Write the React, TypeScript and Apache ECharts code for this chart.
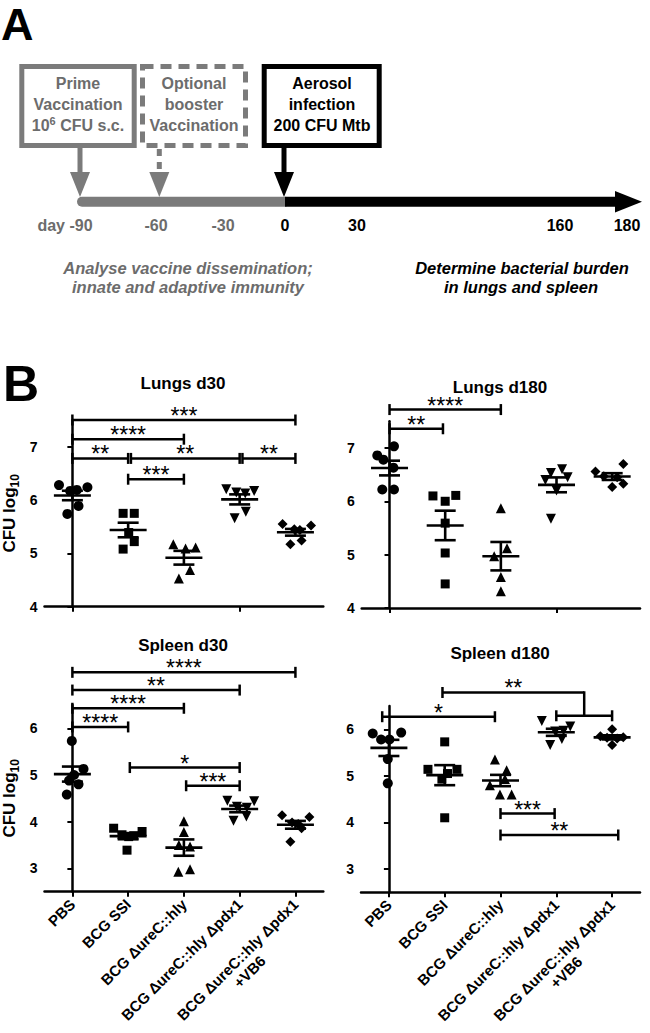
import React, { useEffect, useRef } from "react";
import * as echarts from "echarts";

const FONT = "'Liberation Sans', Arial, Helvetica, sans-serif";
const GRAY_LINE = "#7b7b7b";
const GRAY_TEXT = "#6c6c6c";

// ---------- DATA ----------
const categories = [
  "PBS",
  "BCG SSI",
  "BCG ΔureC::hly",
  "BCG ΔureC::hly Δpdx1",
  "BCG ΔureC::hly Δpdx1\n+VB6",
];
const groupSymbols = ["circle", "rect", "triangle", "triangle", "diamond"];
const groupSymbolRotate = [0, 0, 0, 180, 0];
const groupSymbolSize = [10, 9, 10, 10, 10];

// Lungs d30 (CFU log10)
const lungsD30Values = [
  [6.28, 6.17, 6.19, 6.24, 5.74, 5.89],
  [5.75, 5.75, 5.39, 5.22, 5.08],
  [5.17, 5.09, 5.11, 4.69, 4.53],
  [6.2, 6.14, 6.12, 6.17, 5.66, 5.78],
  [5.55, 5.45, 5.44, 5.52, 5.17, 5.24],
];
const lungsD30Jitter = [
  [-0.24, -0.04, 0.08, 0.27, -0.09, 0.11],
  [-0.09, 0.11, 0.01, 0.11, -0.09],
  [-0.19, 0.03, 0.21, 0.11, -0.09],
  [-0.24, -0.06, 0.1, 0.26, -0.09, 0.11],
  [-0.23, -0.02, 0.08, 0.28, -0.09, 0.11],
];
const lungsD30Brackets = [
  { from: 0, to: 4, y: 7.5, label: "***" },
  { from: 0, to: 2, y: 7.14, label: "****" },
  { from: 0, to: 1, y: 6.78, label: "**" },
  { from: 1.05, to: 3, y: 6.78, label: "**" },
  { from: 3.05, to: 4, y: 6.78, label: "**" },
  { from: 1, to: 2, y: 6.39, label: "***" },
];

// Lungs d180
const lungsD180Values = [
  [6.86, 6.78, 7.03, 6.63, 6.22, 6.22],
  [6.1, 6.0, 6.11, 5.59, 5.03, 4.45],
  [5.87, 5.12, 4.97, 4.58, 4.31],
  [6.53, 6.6, 6.45, 6.4, 6.2, 5.67],
  [6.56, 6.7, 6.27, 6.33, 6.47, 6.45],
];
const lungsD180Jitter = [
  [-0.22, -0.11, 0.08, 0.07, -0.13, 0.08],
  [-0.22, 0, 0.19, 0, 0, 0],
  [0, 0.11, -0.12, 0, 0],
  [-0.1, 0.1, 0.2, -0.2, 0, -0.1],
  [-0.3, 0.2, 0, 0.2, -0.15, 0.09],
];
const lungsD180Brackets = [
  { from: 0, to: 2, y: 7.72, label: "****" },
  { from: 0, to: 0.96, y: 7.36, label: "**" },
];

// Spleen d30
const spleenD30Values = [
  [5.73, 5.13, 5.0, 4.88, 4.8, 4.58],
  [3.86, 3.79, 3.72, 3.7, 3.68, 3.39],
  [4.01, 3.78, 3.5, 3.47, 2.93, 2.98],
  [4.45, 4.44, 4.32, 4.3, 4.11, 4.02],
  [4.14, 4.1, 3.98, 3.95, 3.86, 3.57],
];
const spleenD30Jitter = [
  [-0.01, 0.2, 0.03, -0.06, 0.11, -0.1],
  [-0.26, 0.25, -0.11, 0.1, 0.01, -0.02],
  [0, 0, -0.09, 0.11, -0.1, 0.11],
  [-0.22, 0.26, -0.05, 0.13, 0.12, -0.11],
  [-0.24, 0.25, -0.06, 0.05, 0.11, -0.09],
];
const spleenD30Brackets = [
  { from: 0, to: 4, y: 7.2, label: "****" },
  { from: 0, to: 3, y: 6.82, label: "**" },
  { from: 0, to: 2, y: 6.43, label: "****" },
  { from: 0, to: 1, y: 6.03, label: "****" },
  { from: 1.03, to: 3, y: 5.16, label: "*" },
  { from: 2.04, to: 3, y: 4.77, label: "***" },
];

// Spleen d180
const spleenD180Values = [
  [5.91, 5.78, 5.93, 5.78, 5.36, 4.84],
  [5.73, 5.14, 5.14, 5.05, 4.93, 4.1],
  [5.35, 5.12, 4.93, 4.8, 4.6, 4.6],
  [6.18, 6.06, 5.95, 5.97, 5.79, 5.66],
  [6.0, 5.85, 5.83, 5.82, 5.8, 5.66],
];
const spleenD180Jitter = [
  [-0.29, 0.01, 0.22, -0.14, -0.02, -0.02],
  [0, -0.3, 0.22, 0.05, -0.05, 0],
  [-0.1, 0.11, 0.08, -0.19, -0.01, 0.2],
  [-0.26, 0.25, -0.02, 0.13, 0.1, -0.11],
  [0, -0.21, 0.2, -0.09, 0.09, 0],
];
const spleenD180Brackets: any[] = [
  { from: -0.12, to: 1.9, y: 6.27, label: "*" },
  { from: 0.96, to: 3.5, y: 6.79, label: "**", dropTo: 6.29 },
  { from: 3, to: 4, y: 6.29, label: "" },
  { from: 2, to: 2.97, y: 4.19, label: "***" },
  { from: 2, to: 4.11, y: 3.73, label: "**" },
];

const panelTitles = ["Lungs d30", "Lungs d180", "Spleen d30", "Spleen d180"];
const panelValues = [lungsD30Values, lungsD180Values, spleenD30Values, spleenD180Values];
const panelJitter = [lungsD30Jitter, lungsD180Jitter, spleenD30Jitter, spleenD180Jitter];
const panelBrackets: any[][] = [lungsD30Brackets, lungsD180Brackets, spleenD30Brackets, spleenD180Brackets];
const panelYRange = [
  [4, 7.5],
  [4, 7.5],
  [2.5, 6.5],
  [2.5, 6.5],
];
const panelYTicks = [
  [4, 5, 6, 7],
  [4, 5, 6, 7],
  [3, 4, 5, 6],
  [3, 4, 5, 6],
];

// Timeline (panel A)
const timelineLabels = ["day -90", "-60", "-30", "0", "30", "160", "180"];

// ---------- LAYOUT ----------
const layouts = [
  { left: 43.3, top: 420, width: 280, height: 186.7, tx: 183, ty: 383, labels: false, name: true },
  { left: 361.7, top: 421.3, width: 278.3, height: 186.6, tx: 500, ty: 387, labels: false, name: false },
  { left: 42.3, top: 705, width: 281, height: 186.7, tx: 183, ty: 645, labels: true, name: true },
  { left: 361, top: 706, width: 279, height: 186.3, tx: 500, ty: 653, labels: true, name: false },
];
const timelineLabelX = [65, 156, 223, 285, 357, 560, 627];
const LBL_FONT_SIZE = 15;
const LBL_MARGIN = 10;
const LBL_LINE_H = 17;

function meanSem(v: number[]) {
  const n = v.length;
  const m = v.reduce((a, b) => a + b, 0) / n;
  const sd = Math.sqrt(v.reduce((a, b) => a + (b - m) * (b - m), 0) / (n - 1));
  return [m, sd / Math.sqrt(n)];
}

function measure(text: string, font: string) {
  try {
    const ctx = document.createElement("canvas").getContext("2d");
    if (ctx) {
      ctx.font = font;
      return ctx.measureText(text).width;
    }
  } catch (e) {}
  return text.length * 8;
}

function txt(text: string, x: number, y: number, font: string, fill: string, align = "center", extra: any = {}) {
  return {
    type: "text",
    x,
    y,
    silent: true,
    style: {
      text,
      font,
      fill,
      textAlign: align,
      align,
      textVerticalAlign: "middle",
      verticalAlign: "middle",
      ...extra,
    },
  };
}

function buildOption() {
  const grids: any[] = [];
  const xAxes: any[] = [];
  const yAxes: any[] = [];
  const series: any[] = [];
  const graphics: any[] = [];

  const axisColor = "#000";
  panelTitles.forEach((title, pi) => {
    const L = layouts[pi];
    grids.push({ left: L.left, top: L.top, width: L.width, height: L.height, containLabel: false });
    xAxes.push({
      type: "category",
      gridIndex: pi,
      data: categories,
      boundaryGap: true,
      axisLine: { show: true, lineStyle: { color: axisColor, width: 2.5 } },
      axisTick: { show: true, alignWithLabel: true, length: 5, lineStyle: { color: axisColor, width: 2 } },
      axisLabel: L.labels
        ? {
            show: true,
            interval: 0,
            rotate: 45,
            margin: LBL_MARGIN,
            color: "#000",
            fontFamily: FONT,
            fontWeight: "bold",
            fontSize: LBL_FONT_SIZE,
            // the continuation line of a two-line category is drawn centred below (see graphic)
            formatter: (v: string) => v.split("\n")[0],
          }
        : { show: false },
      splitLine: { show: false },
    });
    xAxes.push({ type: "value", gridIndex: pi, min: -0.5, max: 4.5, show: false, splitLine: { show: false } });
    yAxes.push({
      type: "value",
      gridIndex: pi,
      min: panelYRange[pi][0],
      max: panelYRange[pi][1],
      axisLine: { show: true, lineStyle: { color: axisColor, width: 2.5 } },
      axisTick: { show: true, length: 5, customValues: panelYTicks[pi], lineStyle: { color: axisColor, width: 2 } },
      axisLabel: {
        show: true,
        customValues: panelYTicks[pi],
        margin: 7,
        color: "#000",
        fontFamily: FONT,
        fontWeight: "bold",
        fontSize: 14,
      },
      splitLine: { show: false },
      name: L.name ? "{n|CFU log}{s|10}" : "",
      nameLocation: "middle",
      nameRotate: 90,
      nameGap: 24,
      nameTextStyle: {
        rich: {
          n: { fontFamily: FONT, fontWeight: "bold", fontSize: 17, lineHeight: 22, color: "#000" },
          s: { fontFamily: FONT, fontWeight: "bold", fontSize: 12, lineHeight: 12, verticalAlign: "bottom", color: "#000" },
        },
      },
    });

    const values = panelValues[pi];
    const jitter = panelJitter[pi];
    values.forEach((vals, gi) => {
      series.push({
        type: "scatter",
        xAxisIndex: pi * 2 + 1,
        yAxisIndex: pi,
        symbol: groupSymbols[gi],
        symbolRotate: groupSymbolRotate[gi],
        symbolSize: groupSymbolSize[gi],
        itemStyle: { color: "#000", opacity: 1 },
        silent: true,
        z: 3,
        data: vals.map((v, i) => [gi + jitter[gi][i], v]),
      });
    });

    // mean ± SEM
    series.push({
      type: "custom",
      xAxisIndex: pi * 2 + 1,
      yAxisIndex: pi,
      silent: true,
      z: 4,
      encode: { x: 0, y: 1 },
      data: values.map((vals, gi) => {
        const [m, s] = meanSem(vals);
        return [gi, m, s];
      }),
      renderItem: (params: any, api: any) => {
        const gx = api.value(0);
        const m = api.value(1);
        const s = api.value(2);
        const c = api.coord([gx, m]);
        const hi = api.coord([gx, m + s]);
        const lo = api.coord([gx, m - s]);
        const st = { stroke: "#000", lineWidth: 2.6 };
        return {
          type: "group",
          children: [
            { type: "line", shape: { x1: c[0] - 18.5, y1: c[1], x2: c[0] + 18.5, y2: c[1] }, style: st },
            { type: "line", shape: { x1: c[0], y1: hi[1], x2: c[0], y2: lo[1] }, style: st },
            { type: "line", shape: { x1: c[0] - 10.5, y1: hi[1], x2: c[0] + 10.5, y2: hi[1] }, style: st },
            { type: "line", shape: { x1: c[0] - 10.5, y1: lo[1], x2: c[0] + 10.5, y2: lo[1] }, style: st },
          ],
        };
      },
    });

    // significance brackets
    const brackets = panelBrackets[pi];
    series.push({
      type: "custom",
      xAxisIndex: pi * 2 + 1,
      yAxisIndex: pi,
      silent: true,
      clip: false,
      z: 5,
      encode: { x: [0, 1], y: 2 },
      data: brackets.map((b) => [b.from, b.to, b.y]),
      renderItem: (params: any, api: any) => {
        const b = brackets[params.dataIndex];
        const p1 = api.coord([api.value(0), api.value(2)]);
        const p2 = api.coord([api.value(1), api.value(2)]);
        const st = { stroke: "#000", lineWidth: 2.5 };
        const children: any[] = [
          { type: "line", shape: { x1: p1[0], y1: p1[1], x2: p2[0], y2: p2[1] }, style: st },
          { type: "line", shape: { x1: p1[0], y1: p1[1] - 5.5, x2: p1[0], y2: p1[1] + 5.5 }, style: st },
        ];
        if (b.dropTo != null) {
          const p3 = api.coord([api.value(1), b.dropTo]);
          children.push({ type: "line", shape: { x1: p2[0], y1: p2[1] - 1.2, x2: p3[0], y2: p3[1] }, style: st });
        } else {
          children.push({ type: "line", shape: { x1: p2[0], y1: p2[1] - 5.5, x2: p2[0], y2: p2[1] + 5.5 }, style: st });
        }
        if (b.label) {
          children.push({
            type: "text",
            x: (p1[0] + p2[0]) / 2,
            y: p1[1] - 4,
            style: {
              text: b.label,
              font: `23px ${FONT}`,
              fill: "#000",
              textAlign: "center",
              align: "center",
              textVerticalAlign: "middle",
              verticalAlign: "middle",
            },
          });
        }
        return { type: "group", children };
      },
    });

    graphics.push(txt(title, L.tx, L.ty, `bold 17px ${FONT}`, "#000"));
  });

  // ----- Panel A (schematic) -----
  graphics.push(txt("A", 1, 24, `bold 45px ${FONT}`, "#000", "left"));
  graphics.push(txt("B", 3, 384, `bold 50px ${FONT}`, "#000", "left"));

  graphics.push({
    type: "rect",
    silent: true,
    shape: { x: 21.8, y: 66.5, width: 112.4, height: 79 },
    style: { fill: "none", stroke: GRAY_LINE, lineWidth: 5 },
  });
  graphics.push({
    type: "rect",
    silent: true,
    shape: { x: 142.5, y: 66.5, width: 103, height: 79 },
    style: { fill: "none", stroke: GRAY_LINE, lineWidth: 5, lineDash: [11, 7] },
  });
  graphics.push({
    type: "rect",
    silent: true,
    shape: { x: 264.2, y: 66.5, width: 115, height: 79 },
    style: { fill: "none", stroke: "#000", lineWidth: 5 },
  });

  const boxFont = `bold 16px ${FONT}`;
  graphics.push(txt("Prime", 78, 83.5, boxFont, GRAY_TEXT));
  graphics.push(txt("Vaccination", 78, 104.5, boxFont, GRAY_TEXT));
  graphics.push(
    txt("10{sup|6} CFU s.c.", 78, 125, boxFont, GRAY_TEXT, "center", {
      lineHeight: 20,
      rich: {
        sup: {
          fontSize: 11,
          fontWeight: "bold",
          fontFamily: FONT,
          lineHeight: 11,
          verticalAlign: "top",
          fill: GRAY_TEXT,
          color: GRAY_TEXT,
        },
      },
    })
  );
  graphics.push(txt("Optional", 194, 83.5, boxFont, GRAY_TEXT));
  graphics.push(txt("booster", 194, 104.5, boxFont, GRAY_TEXT));
  graphics.push(txt("Vaccination", 194, 125.5, boxFont, GRAY_TEXT));
  graphics.push(txt("Aerosol", 322, 83.5, boxFont, "#000"));
  graphics.push(txt("infection", 322, 104.5, boxFont, "#000"));
  graphics.push(txt("200 CFU Mtb", 322, 125.5, boxFont, "#000"));

  // arrows from boxes
  graphics.push({ type: "line", silent: true, shape: { x1: 80, y1: 148, x2: 80, y2: 175 }, style: { stroke: GRAY_LINE, lineWidth: 5 } });
  graphics.push({ type: "polygon", silent: true, shape: { points: [[70, 172], [90, 172], [80, 197]] }, style: { fill: GRAY_LINE } });
  graphics.push({ type: "line", silent: true, shape: { x1: 159.3, y1: 149, x2: 159.3, y2: 175 }, style: { stroke: GRAY_LINE, lineWidth: 5, lineDash: [7, 6] } });
  graphics.push({ type: "polygon", silent: true, shape: { points: [[149.3, 172], [169.3, 172], [159.3, 197]] }, style: { fill: GRAY_LINE } });
  graphics.push({ type: "line", silent: true, shape: { x1: 284, y1: 148, x2: 284, y2: 175 }, style: { stroke: "#000", lineWidth: 5 } });
  graphics.push({ type: "polygon", silent: true, shape: { points: [[274, 172], [294, 172], [284, 197]] }, style: { fill: "#000" } });

  // timeline
  graphics.push({ type: "line", silent: true, shape: { x1: 82, y1: 201.7, x2: 285, y2: 201.7 }, style: { stroke: GRAY_LINE, lineWidth: 10, lineCap: "round" } });
  graphics.push({ type: "line", silent: true, shape: { x1: 285, y1: 201.7, x2: 620, y2: 201.7 }, style: { stroke: "#000", lineWidth: 10, lineCap: "butt" } });
  graphics.push({ type: "polygon", silent: true, shape: { points: [[615, 191], [615, 212.4], [642, 201.7]] }, style: { fill: "#000" } });

  timelineLabels.forEach((t, i) => {
    graphics.push(txt(t, timelineLabelX[i], 225, `bold 16px ${FONT}`, i < 3 ? GRAY_TEXT : "#000"));
  });

  const itFont = `italic bold 16.5px ${FONT}`;
  graphics.push(txt("Analyse vaccine dissemination;", 188, 268, itFont, GRAY_TEXT));
  graphics.push(txt("innate and adaptive immunity", 188, 287, itFont, GRAY_TEXT));
  graphics.push(txt("Determine bacterial burden", 522, 268, itFont, "#000"));
  graphics.push(txt("in lungs and spleen", 521, 287, itFont, "#000"));

  return {
    animation: false,
    backgroundColor: "#fff",
    grid: grids,
    xAxis: xAxes,
    yAxis: yAxes,
    series,
    graphic: { elements: graphics },
  };
}

export default function App() {
  const ref = useRef<HTMLDivElement>(null);
  useEffect(() => {
    if (!ref.current) return;
    const chart = echarts.init(ref.current, null, { renderer: "svg" });
    const option: any = buildOption();
    chart.setOption(option);

    // continuation lines of two-line category labels, centred under the first line
    const lblFont = `bold ${LBL_FONT_SIZE}px 'Liberation Sans', Arial, sans-serif`;
    const extra: any[] = [];
    layouts.forEach((L, pi) => {
      if (!L.labels) return;
      categories.forEach((cat, ci) => {
        const parts = cat.split("\n");
        if (parts.length < 2) return;
        const px = chart.convertToPixel({ xAxisIndex: pi * 2 } as any, cat as any) as any;
        const py = chart.convertToPixel({ yAxisIndex: pi } as any, panelYRange[pi][0]) as any;
        const x0 = typeof px === "number" ? px : px[0];
        const y0 = (typeof py === "number" ? py : py[1]) + LBL_MARGIN;
        const w = measure(parts[0], lblFont);
        const c = Math.SQRT1_2;
        // center of first line, then one line "below" in the rotated frame
        const cx = x0 - (w / 2) * c + LBL_LINE_H * c;
        const cy = y0 + (w / 2) * c + LBL_LINE_H * c;
        extra.push({
          type: "text",
          x: cx,
          y: cy,
          rotation: Math.PI / 4,
          silent: true,
          style: {
            text: parts.slice(1).join(" "),
            font: lblFont,
            fill: "#000",
            textAlign: "center",
            align: "center",
            textVerticalAlign: "middle",
            verticalAlign: "middle",
          },
        });
      });
    });
    option.graphic.elements = option.graphic.elements.concat(extra);
    chart.setOption(option, true);
    return () => chart.dispose();
  }, []);
  return (
    <div
      ref={ref}
      style={{ position: "absolute", left: 0, top: 0, width: 650, height: 1033, background: "#fff" }}
    />
  );
}
